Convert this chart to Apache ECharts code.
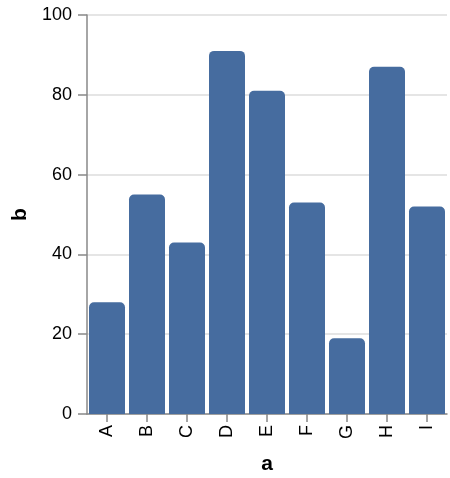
<!DOCTYPE html>
<html><head><meta charset="utf-8">
<script src="https://cdn.jsdelivr.net/npm/echarts@6/dist/echarts.min.js"></script>
<style>html,body{margin:0;padding:0;background:#fff}#c{width:450px;height:478px}</style>
</head><body><div id="c"></div>
<script>
const categories = ['A','B','C','D','E','F','G','H','I'];
const values = [28, 55, 43, 91, 81, 53, 19, 87, 52];
const yTicks = [0, 20, 40, 60, 80, 100];

const font = "'Liberation Sans', Arial, Helvetica, sans-serif";
const chart = echarts.init(document.getElementById('c'), null, {renderer: 'canvas'});
chart.setOption({
  animation: false,
  grid: {left: 87, right: 3, top: 15, bottom: 64, containLabel: false, outerBoundsMode: 'none'},
  xAxis: {
    type: 'category', data: categories,
    name: 'a', nameLocation: 'middle', nameGap: 40,
    nameTextStyle: {fontFamily: font, fontSize: 21, fontWeight: 'bold', color: '#000'},
    axisLine: {show: true, lineStyle: {color: '#888', width: 1.5}},
    axisTick: {show: true, inside: false, alignWithLabel: true, length: 8, lineStyle: {color: '#888', width: 1.5}},
    axisLabel: {rotate: 90, fontFamily: font, fontSize: 18, color: '#000', margin: 11},
    splitLine: {show: false}
  },
  yAxis: {
    type: 'value', min: yTicks[0], max: yTicks[yTicks.length-1], interval: 20,
    name: 'b', nameLocation: 'middle', nameGap: 55, nameRotate: 90,
    nameTextStyle: {fontFamily: font, fontSize: 21, fontWeight: 'bold', color: '#000'},
    axisLine: {show: true, lineStyle: {color: '#888', width: 1.5}},
    axisTick: {show: true, inside: false, length: 9, lineStyle: {color: '#888', width: 1.5}},
    axisLabel: {fontFamily: font, fontSize: 18, color: '#000', margin: 15},
    splitLine: {show: true, lineStyle: {color: '#ddd', width: 1.5}}
  },
  series: [{
    type: 'bar', data: values, barCategoryGap: '10%',
    itemStyle: {color: '#466c9f', borderRadius: [5, 5, 0, 0]}
  }]
});
</script></body></html>
